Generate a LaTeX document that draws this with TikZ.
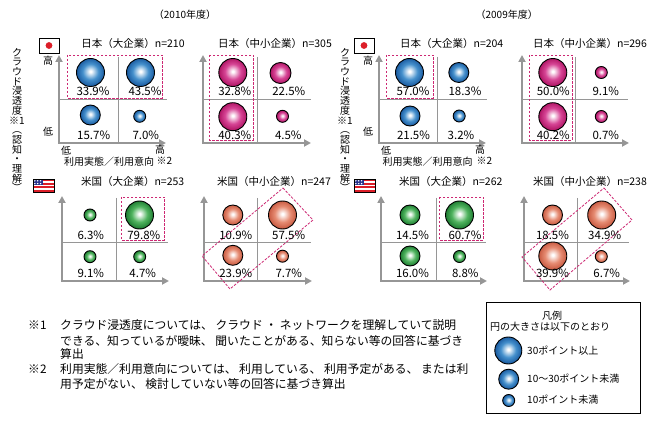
\documentclass[tikz,border=0pt]{standalone}
\usepackage{fontspec}
\setmainfont{Noto Sans CJK JP}
\usetikzlibrary{arrows.meta}
\definecolor{axgray}{RGB}{150,150,150}
\definecolor{hlpink}{RGB}{205,40,115}
\definecolor{bmid}{RGB}{70,145,205}
\definecolor{bdk}{RGB}{25,90,160}
\definecolor{pmid}{RGB}{215,70,150}
\definecolor{pdk}{RGB}{175,20,100}
\definecolor{gmid}{RGB}{80,180,95}
\definecolor{gdk}{RGB}{30,125,50}
\definecolor{smid}{RGB}{230,140,115}
\definecolor{sdk}{RGB}{200,90,65}
\definecolor{flagred}{RGB}{220,30,40}
\definecolor{flagblue}{RGB}{40,50,140}
\pgfdeclareradialshading{bubblue}{\pgfpoint{0bp}{2bp}}{color(0bp)=(white); color(1.5bp)=(white); color(14bp)=(bmid); color(25bp)=(bdk); color(50bp)=(bdk)}
\pgfdeclareradialshading{bubpink}{\pgfpoint{0bp}{2bp}}{color(0bp)=(white); color(1.5bp)=(white); color(14bp)=(pmid); color(25bp)=(pdk); color(50bp)=(pdk)}
\pgfdeclareradialshading{bubgreen}{\pgfpoint{0bp}{2bp}}{color(0bp)=(white); color(1.5bp)=(white); color(14bp)=(gmid); color(25bp)=(gdk); color(50bp)=(gdk)}
\pgfdeclareradialshading{bubsalmon}{\pgfpoint{0bp}{2bp}}{color(0bp)=(white); color(1.5bp)=(white); color(14bp)=(smid); color(25bp)=(sdk); color(50bp)=(sdk)}
\tikzset{
  axisline/.style={draw=axgray, line width=2.2pt, line join=miter, {Triangle[length=7pt,width=7pt]}-{Triangle[length=7pt,width=7pt]}},
  divline/.style={draw=axgray, line width=0.9pt},
  hlbox/.style={draw=hlpink, line width=0.8pt, dash pattern=on 2.5pt off 1.5pt},
  bub/.style={circle, draw=black, line width=0.9pt, inner sep=0pt, minimum size=#1, shade},
  bb/.style={bub=#1, shading=bubblue},
  pb/.style={bub=#1, shading=bubpink},
  gb/.style={bub=#1, shading=bubgreen},
  sb/.style={bub=#1, shading=bubsalmon},
  pct/.style={font=\fontsize{11.5}{12}\selectfont, inner sep=0pt},
  ttl/.style={font=\fontsize{10.5}{12}\selectfont, inner sep=0pt},
  yr/.style={font=\fontsize{10}{12}\selectfont, inner sep=0pt},
  axlab/.style={font=\fontsize{10}{12}\selectfont, inner sep=0pt},
  vtxt/.style={font=\fontsize{10}{9.7}\selectfont, align=center, inner sep=0pt},
  note/.style={font=\fontsize{11.8}{12}\selectfont, inner sep=0pt, anchor=west},
  lgt/.style={font=\fontsize{10}{12}\selectfont, inner sep=0pt},
}
\newcommand\jpflagat[2]{%
  \begin{scope}[shift={(#1,#2)}]
    \fill[white] (0,0) rectangle (20,15);
    \fill[flagred] (10,7.5) circle (3.4);
    \draw[black, line width=0.8pt] (0,0) rectangle (20,15);
  \end{scope}}
\newcommand\usflagat[2]{%
  \begin{scope}[shift={(#1,#2)}]
    \fill[white] (0,0) rectangle (21,13);
    \foreach \i in {0,2,4,6} \fill[flagred] (0,\i*13/7) rectangle (21,\i*13/7+13/7);
    \fill[flagblue] (0,0) rectangle (9.5,6.5);
    \foreach \a in {1.8,4.7,7.6} \foreach \b in {1.8,4.6} \fill[white] (\a,\b) circle (0.8);
    \draw[black, line width=0.8pt] (0,0) rectangle (21,13);
  \end{scope}}
\begin{document}
\begin{tikzpicture}[x=1pt,y=-1pt]
\useasboundingbox[fill=white] (0,0) rectangle (654,425);
% year labels
\node[yr] (y2010) at (185,15) {（2010年度）};
\node[yr] (y2009) at (506.7,15) {（2009年度）};
% vertical axis titles
\node[vtxt] (vt1) at (17,120) {ク\\ラ\\ウ\\ド\\浸\\透\\度\\※1\\︵\\認\\知\\・\\理\\解\\︶};
\node[vtxt] (vt2) at (345,120) {ク\\ラ\\ウ\\ド\\浸\\透\\度\\※1\\︵\\認\\知\\・\\理\\解\\︶};
% flags
\jpflagat{39}{38}
\jpflagat{354}{38}
\usflagat{33}{179}
\usflagat{354}{179}
% axes coordinates
\coordinate (p1o) at (59,143);  \coordinate (p1y) at (59,55);  \coordinate (p1x) at (166,143);
\coordinate (p2o) at (203,143); \coordinate (p2y) at (203,55); \coordinate (p2x) at (311,143);
\coordinate (p3o) at (379,143); \coordinate (p3y) at (379,55); \coordinate (p3x) at (486,143);
\coordinate (p4o) at (522,143); \coordinate (p4y) at (522,55); \coordinate (p4x) at (629,143);
\coordinate (p5o) at (62,281);  \coordinate (p5y) at (62,196); \coordinate (p5x) at (169,281);
\coordinate (p6o) at (204,281); \coordinate (p6y) at (204,196); \coordinate (p6x) at (312,281);
\coordinate (p7o) at (381,281); \coordinate (p7y) at (381,196); \coordinate (p7x) at (487,281);
\coordinate (p8o) at (524,281); \coordinate (p8y) at (524,196); \coordinate (p8x) at (630,281);
% dividers
\draw[divline] (118,57) -- (118,143);  \draw[divline] (59,99) -- (167,99);
\draw[divline] (257,57) -- (257,143);  \draw[divline] (203,99) -- (311,99);
\draw[divline] (437,57) -- (437,143);  \draw[divline] (379,99) -- (487,99);
\draw[divline] (575,57) -- (575,143);  \draw[divline] (522,99) -- (628,99);
\draw[divline] (116,198) -- (116,281); \draw[divline] (62,242) -- (168,242);
\draw[divline] (257,198) -- (257,281); \draw[divline] (204,242) -- (311,242);
\draw[divline] (436,198) -- (436,281); \draw[divline] (381,242) -- (486,242);
\draw[divline] (577,198) -- (577,281); \draw[divline] (524,242) -- (629,242);
% axes
\draw[axisline] (p1y) -- (p1o) -- (p1x);
\draw[axisline] (p2y) -- (p2o) -- (p2x);
\draw[axisline] (p3y) -- (p3o) -- (p3x);
\draw[axisline] (p4y) -- (p4o) -- (p4x);
\draw[axisline] (p5y) -- (p5o) -- (p5x);
\draw[axisline] (p6y) -- (p6o) -- (p6x);
\draw[axisline] (p7y) -- (p7o) -- (p7x);
\draw[axisline] (p8y) -- (p8o) -- (p8x);
% highlight boxes
\draw[hlbox] (67,55) rectangle (162,98);
\draw[hlbox] (209,55) rectangle (253,140);
\draw[hlbox] (386,55) rectangle (433,98);
\draw[hlbox] (529,55) rectangle (572,140);
\draw[hlbox] (121,197) rectangle (164,240);
\draw[hlbox] (439,197) rectangle (483,240);
\coordinate (r6a) at (283,188); \coordinate (r6b) at (313,220); \coordinate (r6c) at (230,289); \coordinate (r6d) at (202,256);
\draw[hlbox] (r6a) -- (r6b) -- (r6c) -- (r6d) -- cycle;
\coordinate (r8a) at (604,188); \coordinate (r8b) at (632,220); \coordinate (r8c) at (550,290); \coordinate (r8d) at (522,257);
\draw[hlbox] (r8a) -- (r8b) -- (r8c) -- (r8d) -- cycle;
% titles
\node[ttl] (t1) at (133,44) {日本（大企業）n=210};
\node[ttl] (t2) at (275,44) {日本（中小企業）n=305};
\node[ttl] (t3) at (451.7,44) {日本（大企業）n=204};
\node[ttl] (t4) at (590,44) {日本（中小企業）n=296};
\node[ttl] (t5) at (132.7,182) {米国（大企業）n=253};
\node[ttl] (t6) at (274,182) {米国（中小企業）n=247};
\node[ttl] (t7) at (450.8,182) {米国（大企業）n=262};
\node[ttl] (t8) at (590,182) {米国（中小企業）n=238};
% axis labels
\node[axlab] (ax1h) at (48,61) {高};
\node[axlab] (ax1l) at (48,132) {低};
\node[axlab] (ax1xl) at (66,151) {低};
\node[axlab] (ax1t) at (109,162) {利用実態／利用意向};
\node[axlab] (ax1xh) at (160,150) {高};
\node[axlab] (ax1n) at (164.5,161) {※2};
\node[axlab] (ax3h) at (368,61) {高};
\node[axlab] (ax3l) at (368,132) {低};
\node[axlab] (ax3xl) at (386,151) {低};
\node[axlab] (ax3t) at (427.5,162) {利用実態／利用意向};
\node[axlab] (ax3xh) at (480,150) {高};
\node[axlab] (ax3n) at (484.5,161) {※2};
% panel 1
\node[bb=28pt] (a1) at (90.5,72.5) {};
\node[bb=28pt] (a2) at (140.5,72.5) {};
\node[bb=20pt] (a3) at (90.3,115) {};
\node[bb=12pt] (a4) at (139.7,116.3) {};
\node[pct] (a1l) at (93,91) {33.9\%};
\node[pct] (a2l) at (145,91) {43.5\%};
\node[pct] (a3l) at (93.7,135.5) {15.7\%};
\node[pct] (a4l) at (145.8,135.5) {7.0\%};
% panel 2
\node[pb=28pt] (b1) at (232.8,72.5) {};
\node[pb=21pt] (b2) at (280.5,73) {};
\node[pb=28pt] (b3) at (232.8,116.7) {};
\node[pb=12pt] (b4) at (282.5,116.3) {};
\node[pct] (b1l) at (234.8,91) {32.8\%};
\node[pct] (b2l) at (288.8,91) {22.5\%};
\node[pct] (b3l) at (234.8,135.5) {40.3\%};
\node[pct] (b4l) at (288.3,135.5) {4.5\%};
% panel 3
\node[bb=28pt] (c1) at (409.5,72.5) {};
\node[bb=20pt] (c2) at (458.8,72.5) {};
\node[bb=20pt] (c3) at (410,116) {};
\node[bb=12pt] (c4) at (459.2,116) {};
\node[pct] (c1l) at (413,91) {57.0\%};
\node[pct] (c2l) at (465,91) {18.3\%};
\node[pct] (c3l) at (413.5,135.5) {21.5\%};
\node[pct] (c4l) at (461,135.5) {3.2\%};
% panel 4
\node[pb=28pt] (d1) at (552.8,72.5) {};
\node[pb=12pt] (d2) at (601.3,72.5) {};
\node[pb=28pt] (d3) at (552.8,116.7) {};
\node[pb=12pt] (d4) at (601.3,116.5) {};
\node[pct] (d1l) at (553.3,91) {50.0\%};
\node[pct] (d2l) at (605.8,91) {9.1\%};
\node[pct] (d3l) at (553.3,135.5) {40.2\%};
\node[pct] (d4l) at (605.8,135.5) {0.7\%};
% panel 5
\node[gb=12pt] (e1) at (90,215) {};
\node[gb=28pt] (e2) at (139.5,215) {};
\node[gb=12pt] (e3) at (90,256.7) {};
\node[gb=12pt] (e4) at (139.7,256.7) {};
\node[pct] (e1l) at (90.8,235) {6.3\%};
\node[pct] (e2l) at (143.8,235) {79.8\%};
\node[pct] (e3l) at (90.8,273) {9.1\%};
\node[pct] (e4l) at (142.7,273) {4.7\%};
% panel 6
\node[sb=20pt] (f1) at (232.8,215) {};
\node[sb=28pt] (f2) at (282.5,215) {};
\node[sb=20pt] (f3) at (232.8,255.3) {};
\node[sb=12pt] (f4) at (282.5,256.2) {};
\node[pct] (f1l) at (235.8,235) {10.9\%};
\node[pct] (f2l) at (288.7,235) {57.5\%};
\node[pct] (f3l) at (235.8,273) {23.9\%};
\node[pct] (f4l) at (288.8,273) {7.7\%};
% panel 7
\node[gb=20pt] (g1) at (410,215) {};
\node[gb=28pt] (g2) at (459.5,215) {};
\node[gb=20pt] (g3) at (410,256) {};
\node[gb=12pt] (g4) at (459.5,256.5) {};
\node[pct] (g1l) at (412.5,235) {14.5\%};
\node[pct] (g2l) at (465,235) {60.7\%};
\node[pct] (g3l) at (412.5,273) {16.0\%};
\node[pct] (g4l) at (465.3,273) {8.8\%};
% panel 8
\node[sb=20pt] (h1) at (552.5,215) {};
\node[sb=28pt] (h2) at (601.7,215) {};
\node[sb=28pt] (h3) at (552.8,256) {};
\node[sb=12pt] (h4) at (601.3,256.5) {};
\node[pct] (h1l) at (552.5,235) {18.5\%};
\node[pct] (h2l) at (604.7,235) {34.9\%};
\node[pct] (h3l) at (552.5,273) {39.9\%};
\node[pct] (h4l) at (606.7,273) {6.7\%};
% notes
\node[note] (n1m) at (28,325) {※1};
\node[note] (n1a) at (60,325) {クラウド浸透度については、 クラウド ・ ネットワークを理解していて説明};
\node[note] (n1b) at (60,341) {できる、知っているが曖昧、 聞いたことがある、知らない等の回答に基づき};
\node[note] (n1c) at (60,354) {算出};
\node[note] (n2m) at (28,369) {※2};
\node[note] (n2a) at (60,369) {利用実態／利用意向については、 利用している、 利用予定がある、 または利};
\node[note] (n2b) at (60,384) {用予定がない、 検討していない等の回答に基づき算出};
% legend
\node[draw=black, line width=0.9pt, minimum width=154pt, minimum height=111pt, inner sep=0pt] (leg) at (563,357.5) {};
\node[lgt] (legh) at (552,316) {凡例};
\node[lgt] (legs) at (550,327) {円の大きさは以下のとおり};
\node[bb=27pt] (lb1) at (508.3,350.5) {};
\node[bb=20pt] (lb2) at (508.7,379.2) {};
\node[bb=12pt] (lb3) at (508.7,400.5) {};
\node[lgt, anchor=west] (lt1) at (527,351) {30ポイント以上};
\node[lgt, anchor=west] (lt2) at (527,379) {10～30ポイント未満};
\node[lgt, anchor=west] (lt3) at (527,400) {10ポイント未満};
\end{tikzpicture}
\end{document}
